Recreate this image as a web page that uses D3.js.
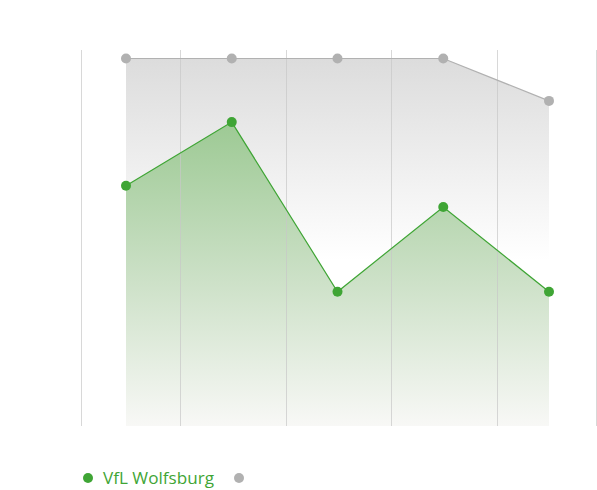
<!DOCTYPE html>
<html>
<head>
<meta charset="utf-8">
<script src="https://cdn.jsdelivr.net/npm/d3@7"></script>
<style>
  body { margin: 0; background: #fff; }
  svg { display: block; }
</style>
</head>
<body>
<svg id="chart"></svg>
<script>
const w = 597;
const h = 490;

// matchdays (table position, 1 = top)
const rounds = ["1", "2", "3", "4", "5"];
const wolfsburg = [7, 4, 12, 8, 12];
const leader = [1, 1, 1, 1, 3];
const legendNames = ["VfL Wolfsburg", ""];

const green = "#3fa535";
const grey = "#b1b1b1";

let svg = d3.select("#chart")
    .attr("width", w)
    .attr("height", h);

let defs = svg.append("defs");

// gradients in user space so both fade over the same height
let gGrey = defs.append("linearGradient")
    .attr("id", "fillGrey")
    .attr("gradientUnits", "userSpaceOnUse")
    .attr("x1", 0).attr("y1", 58).attr("x2", 0).attr("y2", 260);
gGrey.append("stop").attr("offset", "0%").attr("stop-color", "#dcdcdc");
gGrey.append("stop").attr("offset", "100%").attr("stop-color", "#ffffff");

let gGreen = defs.append("linearGradient")
    .attr("id", "fillGreen")
    .attr("gradientUnits", "userSpaceOnUse")
    .attr("x1", 0).attr("y1", 120).attr("x2", 0).attr("y2", 426);
gGreen.append("stop").attr("offset", "0%").attr("stop-color", "#9cc993");
gGreen.append("stop").attr("offset", "55%").attr("stop-color", "#cfe2ca");
gGreen.append("stop").attr("offset", "100%").attr("stop-color", "#f8f8f6");

// index scale for the rounds
let xScale = d3.scaleLinear()
    .domain([0, rounds.length - 1])
    .range([126, 549]);

// reversed: position 1 at the top
let yScale = d3.scaleLinear()
    .domain([0.6, 18.33])
    .range([50, 426]);

let area = d3.area()
    .x((d, i) => xScale(i))
    .y0(yScale(18.33))
    .y1(d => yScale(d));

let line = d3.line()
    .x((d, i) => xScale(i))
    .y(d => yScale(d));

const series = [
    { values: leader, color: grey, fill: "url(#fillGrey)" },
    { values: wolfsburg, color: green, fill: "url(#fillGreen)" }
];

series.forEach(s => {
    svg.append("path")
       .datum(s.values)
       .attr("d", area)
       .attr("fill", s.fill);
});

// grid: plot edges + lines between rounds, over the fills
let gridVals = [-0.425].concat(d3.range(rounds.length - 1).map(i => i + 0.51), [4.44]);

svg.append("g")
   .selectAll("line")
   .data(gridVals)
   .enter()
   .append("line")
   .attr("x1", d => Math.round(xScale(d)) + 0.5)
   .attr("x2", d => Math.round(xScale(d)) + 0.5)
   .attr("y1", yScale(0.6))
   .attr("y2", yScale(18.33))
   .attr("stroke", "#c8c8c8")
   .attr("stroke-opacity", 0.7)
   .attr("stroke-width", 1);

series.forEach(s => {
    svg.append("path")
       .datum(s.values)
       .attr("d", line)
       .attr("fill", "none")
       .attr("stroke", s.color)
       .attr("stroke-width", 1.2);

    svg.append("g")
       .selectAll("circle")
       .data(s.values)
       .enter()
       .append("circle")
       .attr("cx", (d, i) => xScale(i))
       .attr("cy", d => yScale(d))
       .attr("r", 5)
       .attr("fill", s.color);
});

// legend
let legend = svg.append("g").attr("transform", "translate(0, 478)");

legend.append("circle")
      .attr("cx", 88).attr("cy", 0).attr("r", 5)
      .attr("fill", green);

legend.append("text")
      .attr("x", 103)
      .attr("y", 6)
      .attr("font-family", "'Open Sans', sans-serif")
      .attr("font-size", 15.5)
      .attr("fill", green)
      .attr("textLength", 111)
      .attr("lengthAdjust", "spacingAndGlyphs")
      .text(legendNames[0]);

legend.append("circle")
      .attr("cx", 239).attr("cy", 0).attr("r", 5)
      .attr("fill", grey);
</script>
</body>
</html>
